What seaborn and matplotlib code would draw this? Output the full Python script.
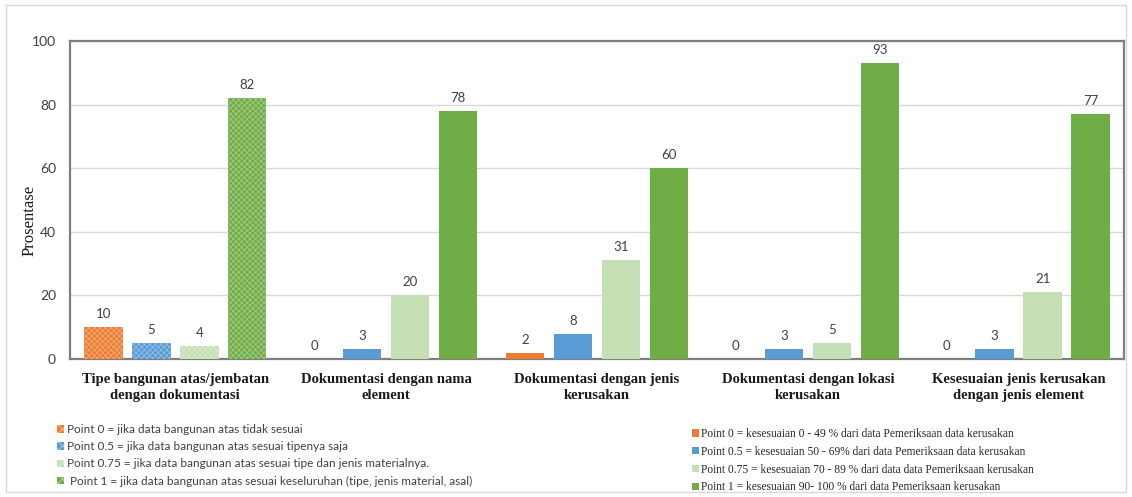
import matplotlib
matplotlib.use("Agg")
import matplotlib.pyplot as plt
import matplotlib.patches as mpatches
import seaborn as sns
import pandas as pd

# Assessment aspects and the share (%) of each score
categories = [
    "Tipe bangunan atas/jembatan\ndengan dokumentasi",
    "Dokumentasi dengan nama\nelement",
    "Dokumentasi dengan jenis\nkerusakan",
    "Dokumentasi dengan lokasi\nkerusakan",
    "Kesesuaian jenis kerusakan\ndengan jenis element",
]
series = ["Point 0", "Point 0.5", "Point 0.75", "Point 1"]
point_0 = [10, 0, 2, 0, 0]
point_05 = [5, 3, 8, 3, 3]
point_075 = [4, 20, 31, 5, 21]
point_1 = [82, 78, 60, 93, 77]

colors = ["#ED7D31", "#5B9BD5", "#C5E0B4", "#70AD47"]

legend_left = [
    "Point 0 = jika data bangunan atas tidak sesuai",
    "Point 0.5 = jika data bangunan atas sesuai tipenya saja",
    "Point 0.75 = jika data bangunan atas sesuai tipe dan jenis materialnya.",
    " Point 1 = jika data bangunan atas sesuai keseluruhan (tipe, jenis material, asal)",
]
legend_right = [
    "Point 0 = kesesuaian 0 - 49 % dari data Pemeriksaan data kerusakan",
    "Point 0.5 = kesesuaian 50 - 69% dari data Pemeriksaan data kerusakan",
    "Point 0.75 = kesesuaian 70 - 89 % dari data data Pemeriksaan kerusakan",
    "Point 1 = kesesuaian 90- 100 % dari data Pemeriksaan kerusakan",
]

rows = []
for s, vals in zip(series, [point_0, point_05, point_075, point_1]):
    for c, v in zip(categories, vals):
        rows.append({"Aspek": c, "Skor": s, "Prosentase": v})
df = pd.DataFrame(rows)

sns.set_theme(style="white")
plt.rcParams["hatch.linewidth"] = 0.6

fig = plt.figure(figsize=(11.32, 4.97), dpi=100)
ax = fig.add_axes([0.0618, 0.2777, 0.9312, 0.6398])

sns.barplot(data=df, x="Aspek", y="Prosentase", hue="Skor", order=categories,
            hue_order=series, palette=colors, width=0.91, gap=0.2,
            saturation=1, ax=ax, legend=False, zorder=3, linewidth=0)

for cont in ax.containers:
    for bar in cont.patches:
        bar.set_linewidth(0)
        bar.set_edgecolor("none")
    # Textured fill for the first aspect
    first = cont.patches[0]
    first.set_hatch("xxxxxx")
    first.set_edgecolor((1, 1, 1, 0.35))

for cont in ax.containers:
    ax.bar_label(cont, fmt="%g", padding=5, fontsize=9.5, color="#404040",
                 family="Lato")

ax.set_ylim(0, 100)
ax.set_yticks([0, 20, 40, 60, 80, 100])
ax.yaxis.grid(True, color="#D9D9D9", linewidth=1, zorder=0)
ax.set_axisbelow(True)
for sp in ax.spines.values():
    sp.set_color("#7F7F7F")
    sp.set_linewidth(1.6)
ax.tick_params(axis="y", length=0, pad=10, labelsize=10, labelcolor="#404040")
ax.tick_params(axis="x", length=0, pad=10)
for lbl in ax.get_yticklabels():
    lbl.set_family("Lato")
for lbl in ax.get_xticklabels():
    lbl.set_family("Liberation Serif")
    lbl.set_fontweight("bold")
    lbl.set_fontsize(10.5)
    lbl.set_color("#1A1A1A")
    lbl.set_linespacing(1.3)
ax.set_xlabel("")
ax.set_ylabel("Prosentase", family="Liberation Serif", fontsize=12,
              color="#1A1A1A")
ax.yaxis.set_label_coords(-0.031, 0.437)

# Legend for the first aspect (textured markers)
h_left = [mpatches.Patch(facecolor=c, edgecolor=(1, 1, 1, 0.5), hatch="xxxx",
                         linewidth=0) for c in colors]
leg1 = fig.legend(h_left, legend_left, loc="upper left",
                  bbox_to_anchor=(0.046, 0.156), frameon=False,
                  prop={"family": "Lato", "size": 8.5},
                  handlelength=0.6, handleheight=0.6, handletextpad=0.3,
                  labelspacing=0.52, borderaxespad=0, labelcolor="#404040")

h_right = [mpatches.Patch(facecolor=c, edgecolor="none") for c in colors]
leg2 = fig.legend(h_right, legend_right, loc="upper left",
                  bbox_to_anchor=(0.607, 0.148), frameon=False,
                  prop={"family": "Liberation Serif", "size": 8.3},
                  handlelength=0.6, handleheight=0.6, handletextpad=0.2,
                  labelspacing=0.5, borderaxespad=0, labelcolor="#262626")

# Outer chart frame
fig.patches.append(mpatches.Rectangle((6 / 1132, 5 / 497), 1120 / 1132, 487 / 497,
                                      transform=fig.transFigure, fill=False,
                                      edgecolor="#D9D9D9", linewidth=1))

fig.savefig("out.png", dpi=100)
